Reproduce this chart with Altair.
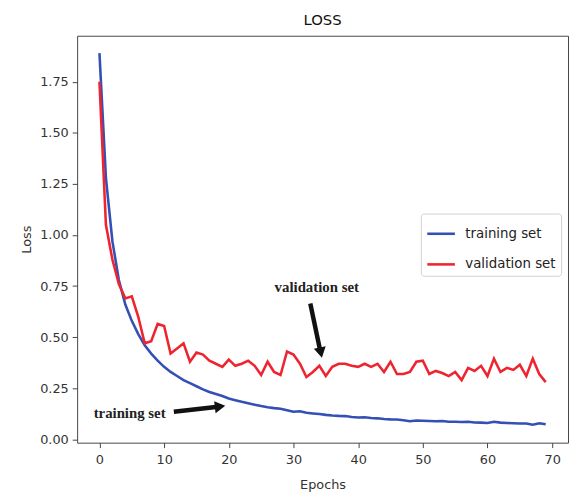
import altair as alt
import pandas as pd

epochs = list(range(70))
train_loss = [1.89, 1.28, 0.97, 0.78, 0.66, 0.58, 0.515, 0.46, 0.42, 0.385,
              0.355, 0.33, 0.31, 0.29, 0.275, 0.26, 0.245, 0.232, 0.222, 0.212,
              0.20, 0.192, 0.184, 0.177, 0.170, 0.163, 0.157, 0.153, 0.150, 0.143,
              0.135, 0.138, 0.130, 0.127, 0.124, 0.120, 0.117, 0.115, 0.114, 0.110,
              0.107, 0.108, 0.105, 0.103, 0.100, 0.098, 0.097, 0.094, 0.089, 0.092,
              0.091, 0.090, 0.089, 0.090, 0.086, 0.086, 0.085, 0.086, 0.083, 0.082,
              0.080, 0.086, 0.082, 0.080, 0.079, 0.078, 0.078, 0.072, 0.079, 0.074]
val_loss = [1.75, 1.05, 0.88, 0.76, 0.69, 0.70, 0.60, 0.47, 0.48, 0.565,
            0.555, 0.42, 0.445, 0.47, 0.38, 0.425, 0.415, 0.385, 0.37, 0.355,
            0.39, 0.36, 0.37, 0.385, 0.36, 0.315, 0.38, 0.33, 0.315, 0.43,
            0.415, 0.37, 0.305, 0.33, 0.36, 0.31, 0.355, 0.37, 0.37, 0.36,
            0.355, 0.37, 0.355, 0.37, 0.33, 0.38, 0.32, 0.32, 0.33, 0.38,
            0.385, 0.32, 0.335, 0.325, 0.31, 0.33, 0.29, 0.35, 0.335, 0.36,
            0.31, 0.395, 0.33, 0.35, 0.34, 0.365, 0.31, 0.395, 0.32, 0.28]
series_names = ["training set", "validation set"]
series_colors = ["#3450b4", "#ee2530"]

x_ticks = [0, 10, 20, 30, 40, 50, 60, 70]
y_ticks = [0.0, 0.25, 0.5, 0.75, 1.0, 1.25, 1.5, 1.75]

# annotations (data coordinates)
note_text = ["validation set", "training set"]
note_x = [33.6, -0.9]
note_y = [0.745, 0.130]
arrow_x = [32.6, 11.5]
arrow_y = [0.665, 0.135]
arrow_x2 = [34.1, 18.35]
arrow_y2 = [0.439, 0.160]
head_x = [34.23, 18.65]
head_y = [0.424, 0.161]
head_angle = [168, 83]

df = pd.DataFrame({
    "Epochs": epochs * 2,
    "Loss": train_loss + val_loss,
    "series": [series_names[0]] * len(epochs) + [series_names[1]] * len(epochs),
})

x_scale = alt.Scale(domain=[-3.45, 72.45], nice=False, zero=False)
y_scale = alt.Scale(domain=[-0.016, 1.975], nice=False, zero=False)

lines = alt.Chart(df).mark_line(strokeWidth=2.6).encode(
    x=alt.X("Epochs:Q", scale=x_scale,
            axis=alt.Axis(values=x_ticks, title="Epochs", format="d")),
    y=alt.Y("Loss:Q", scale=y_scale,
            axis=alt.Axis(values=y_ticks, title="Loss", format=".2f")),
    color=alt.Color("series:N",
                    scale=alt.Scale(domain=series_names, range=series_colors),
                    legend=alt.Legend(title=None, orient="none", legendX=348, legendY=180,
                                      symbolType="stroke", symbolSize=780,
                                      symbolStrokeWidth=2.6, labelFontSize=13.5,
                                      labelFont="DejaVu Sans", labelColor="#222",
                                      labelOffset=9, rowPadding=9, padding=5,
                                      strokeColor="#d0d0d0", fillColor="white",
                                      cornerRadius=3)),
)

notes_df = pd.DataFrame({"text": note_text, "x": note_x, "y": note_y})
notes_c = alt.Chart(notes_df.iloc[[0]]).mark_text(
    font="Liberation Serif", fontWeight="bold", fontSize=15, color="#222", align="center"
).encode(x=alt.X("x:Q", scale=x_scale), y=alt.Y("y:Q", scale=y_scale), text="text:N")
notes_l = alt.Chart(notes_df.iloc[[1]]).mark_text(
    font="Liberation Serif", fontWeight="bold", fontSize=15, color="#222", align="left"
).encode(x=alt.X("x:Q", scale=x_scale), y=alt.Y("y:Q", scale=y_scale), text="text:N")

arrows_df = pd.DataFrame({"x": arrow_x, "y": arrow_y, "x2": arrow_x2, "y2": arrow_y2,
                          "hx": head_x, "hy": head_y, "angle": head_angle})
shafts = alt.Chart(arrows_df).mark_rule(strokeWidth=4.5, color="#111").encode(
    x=alt.X("x:Q", scale=x_scale), y=alt.Y("y:Q", scale=y_scale),
    x2="x2:Q", y2="y2:Q")
heads = alt.Chart(arrows_df).mark_point(shape="triangle-up", filled=True, size=150,
                                        color="#111", opacity=1).encode(
    x=alt.X("hx:Q", scale=x_scale), y=alt.Y("hy:Q", scale=y_scale),
    angle=alt.Angle("angle:Q", scale=None))

chart = alt.layer(lines, shafts, heads, notes_c, notes_l).properties(
    width=497, height=412,
    title=alt.TitleParams("LOSS", fontSize=15, font="DejaVu Sans", fontWeight="normal",
                          color="#111", anchor="middle", offset=8),
    autosize=alt.AutoSizeParams(type="none"),
    padding={"left": 70, "top": 25, "right": 2, "bottom": 58},
).configure_view(
    stroke="#444", strokeWidth=1
).configure_axis(
    grid=False, domain=False, tickColor="#444", tickSize=5,
    labelFont="DejaVu Sans", labelFontSize=13, labelColor="#333",
    titleFont="DejaVu Sans", titleFontSize=13, titleColor="#333", titleFontWeight="normal",
).configure_axisX(labelPadding=6, titlePadding=12).configure_axisY(labelPadding=4, titlePadding=6)

chart.save("out.html", embed_options={"renderer": "svg", "actions": False})
